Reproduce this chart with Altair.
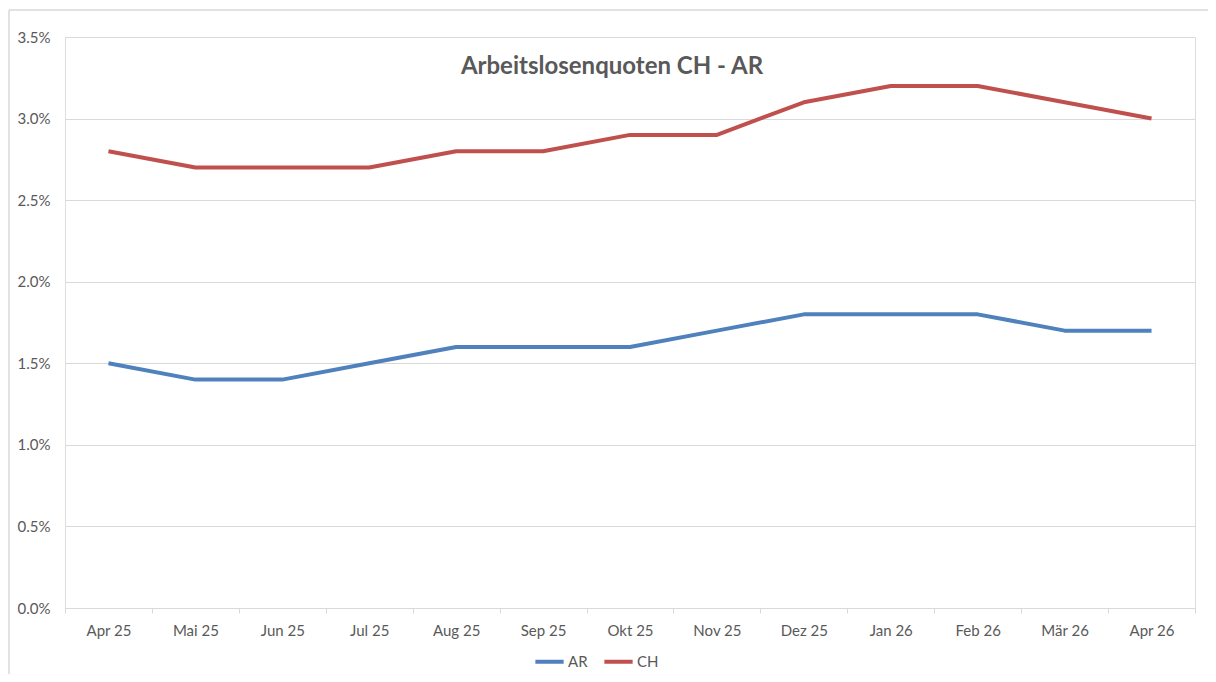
import altair as alt
import pandas as pd

months = ["Apr 25", "Mai 25", "Jun 25", "Jul 25", "Aug 25", "Sep 25", "Okt 25",
          "Nov 25", "Dez 25", "Jan 26", "Feb 26", "Mär 26", "Apr 26"]
ar = [1.5, 1.4, 1.4, 1.5, 1.6, 1.6, 1.6, 1.7, 1.8, 1.8, 1.8, 1.7, 1.7]
ch = [2.8, 2.7, 2.7, 2.7, 2.8, 2.8, 2.9, 2.9, 3.1, 3.2, 3.2, 3.1, 3.0]
series = ["AR", "CH"]
colors = ["#4F81BD", "#C0504D"]
title_text = "Arbeitslosenquoten CH - AR"

rows = []
for m, a, c in zip(months, ar, ch):
    rows.append({"Monat": m, "Serie": "AR", "Wert": a})
    rows.append({"Monat": m, "Serie": "CH", "Wert": c})
df = pd.DataFrame(rows)

FONT = "Lato"
GRAY = "#595959"

lines = alt.Chart(df).mark_line(strokeWidth=4, strokeJoin="round", strokeCap="butt").encode(
    x=alt.X("Monat:N", sort=months, bandPosition=0.5,
            scale=alt.Scale(type="band", paddingInner=0, paddingOuter=0),
            axis=alt.Axis(title=None, labelAngle=0, tickBand="extent", grid=False,
                          domainColor="#D9D9D9", tickColor="#D9D9D9", tickSize=5,
                          labelPadding=10, labelFontSize=15, labelColor=GRAY,
                          labelFont=FONT)),
    y=alt.Y("Wert:Q", scale=alt.Scale(domain=[0, 3.5], nice=False),
            axis=alt.Axis(title=None, values=[0, 0.5, 1, 1.5, 2, 2.5, 3, 3.5],
                          labelExpr="format(datum.value, '.1f') + '%'",
                          domain=False, ticks=False, gridColor="#D9D9D9",
                          labelPadding=15, labelFontSize=15, labelColor=GRAY,
                          labelFont=FONT)),
    color=alt.Color("Serie:N", sort=series,
                    scale=alt.Scale(domain=series, range=colors),
                    legend=alt.Legend(title=None, orient="none", direction="horizontal",
                                      legendX=468, legendY=608,
                                      symbolType="stroke", symbolSize=800,
                                      symbolStrokeWidth=4, labelFontSize=15,
                                      labelColor=GRAY, labelFont=FONT,
                                      labelOffset=2, columnPadding=8)),
)

dummy = pd.DataFrame({"t": [title_text]})

border_top = alt.Chart(dummy).mark_rule(stroke="#D9D9D9", strokeWidth=1.5).encode(
    x=alt.value(-56), x2=alt.value(1200), y=alt.value(-27)
)
border_left = alt.Chart(dummy).mark_rule(stroke="#D9D9D9", strokeWidth=1.5).encode(
    x=alt.value(-56), y=alt.value(-27), y2=alt.value(700)
)

title = alt.Chart(dummy).mark_text(font=FONT, fontSize=24, fontWeight="bold",
                                   color=GRAY, align="center", baseline="middle").encode(
    text="t:N", x=alt.value(547), y=alt.value(30)
)

chart = alt.layer(border_top, border_left, lines, title).properties(
    width=1130, height=571,
    padding={"left": 57, "top": 29, "right": 13, "bottom": 66},
    autosize=alt.AutoSizeParams(type="none"),
).configure_view(stroke=None).configure(background="white")

chart.save("out.html", embed_options={"renderer": "svg", "actions": False})
